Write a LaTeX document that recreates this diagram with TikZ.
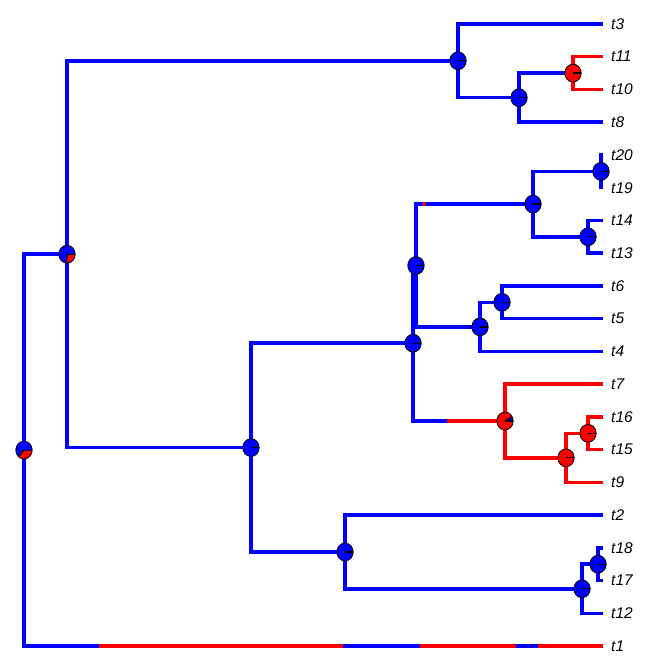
\documentclass[tikz,border=0pt]{standalone}
\usepackage{fontspec}
\setmainfont{Liberation Sans}
\tikzset{
  rama/.style={line width=3.5pt},
  azul/.style={rama, blue},
  rojo/.style={rama, red},
  hoja/.style={anchor=west, inner xsep=8pt, inner ysep=0pt, font=\fontsize{15.5}{18}\selectfont\itshape},
}
% Tarta en un nodo: #1 = nodo, #2 = fin del azul (grados)
\newcommand{\tarta}[2]{%
  \fill[blue] (#1) -- ++(0:8.2 and 8.9) arc[start angle=0, end angle=-#2, x radius=8.2, y radius=8.9] -- cycle;
  \fill[red] (#1) -- ++(-#2:8.2 and 8.9) arc[start angle=-#2, end angle=-360, x radius=8.2, y radius=8.9] -- cycle;
  \draw[line width=0.8pt] (#1) ellipse[x radius=8.2, y radius=8.9];
  \draw[line width=1.2pt] (#1) -- ++(8.2,0);
  \draw[line width=1.2pt] (#1) -- ++(-#2:8.2 and 8.9);
}
\begin{document}
\begin{tikzpicture}[x=1pt, y=-1pt]
    \useasboundingbox (0,0) rectangle (672,671);

    % Nodos internos
    \coordinate (r) at (24,450.1);
    \coordinate (a) at (67,254.2);
    \coordinate (b) at (458,60.8);
    \coordinate (d) at (519,97.7);
    \coordinate (e) at (573,73.1);
    \coordinate (c) at (251,447.6);
    \coordinate (f) at (413,343.2);
    \coordinate (h) at (416,265.5);
    \coordinate (k) at (533,204.1);
    \coordinate (m) at (601,171.4);
    \coordinate (n) at (588,236.8);
    \coordinate (l) at (480,326.9);
    \coordinate (o) at (502,302.3);
    \coordinate (j) at (505,421);
    \coordinate (p) at (566,457.8);
    \coordinate (q) at (588,433.3);
    \coordinate (g) at (345,552);
    \coordinate (u) at (582,588.8);
    \coordinate (v) at (598,564.2);

    % Hojas
    \node[hoja] (t3)  at (603,24)    {t3};
    \node[hoja] (t11) at (603,56.7)  {t11};
    \node[hoja] (t10) at (603,89.5)  {t10};
    \node[hoja] (t8)  at (603,122.2) {t8};
    \node[hoja] (t20) at (603,155)   {t20};
    \node[hoja] (t19) at (603,187.7) {t19};
    \node[hoja] (t14) at (603,220.4) {t14};
    \node[hoja] (t13) at (603,253.2) {t13};
    \node[hoja] (t6)  at (603,285.9) {t6};
    \node[hoja] (t5)  at (603,318.7) {t5};
    \node[hoja] (t4)  at (603,351.4) {t4};
    \node[hoja] (t7)  at (603,384.1) {t7};
    \node[hoja] (t16) at (603,416.9) {t16};
    \node[hoja] (t15) at (603,449.6) {t15};
    \node[hoja] (t9)  at (603,482.4) {t9};
    \node[hoja] (t2)  at (603,515.1) {t2};
    \node[hoja] (t18) at (603,547.8) {t18};
    \node[hoja] (t17) at (603,580.6) {t17};
    \node[hoja] (t12) at (603,613.3) {t12};
    \node[hoja] (t1)  at (603,646)   {t1};

    % Cambios de estado en las ramas
    \coordinate (x1) at (99,646);
    \coordinate (x2) at (343,646);
    \coordinate (x3) at (420,646);
    \coordinate (x4) at (516,646);
    \coordinate (x5) at (538,646);
    \coordinate (xj) at (447,421);
    \coordinate (xk1) at (423,204.1);
    \coordinate (xk2) at (426,204.1);

    % Ramas azules
    \draw[azul] (r) |- (a);
    \draw[azul] (r) |- (x1);
    \draw[azul] (x2) -- (x3);
    \draw[azul] (x4) -- (x5);
    \draw[azul] (a) |- (b);
    \draw[azul] (a) |- (c);
    \draw[azul] (b) |- (t3.west);
    \draw[azul] (b) |- (d);
    \draw[azul] (d) |- (e);
    \draw[azul] (d) |- (t8.west);
    \draw[azul] (c) |- (f);
    \draw[azul] (c) |- (g);
    \draw[azul] (f) |- (h);
    \draw[azul] (f) |- (xj);
    \draw[azul] (h) |- (k);
    \draw[azul] (h) |- (l);
    \draw[azul] (k) |- (m);
    \draw[azul] (k) |- (n);
    \draw[azul] (m) |- (t20.west);
    \draw[azul] (m) |- (t19.west);
    \draw[azul] (n) |- (t14.west);
    \draw[azul] (n) |- (t13.west);
    \draw[azul] (l) |- (o);
    \draw[azul] (l) |- (t4.west);
    \draw[azul] (o) |- (t6.west);
    \draw[azul] (o) |- (t5.west);
    \draw[azul] (g) |- (t2.west);
    \draw[azul] (g) |- (u);
    \draw[azul] (u) |- (v);
    \draw[azul] (u) |- (t12.west);
    \draw[azul] (v) |- (t18.west);
    \draw[azul] (v) |- (t17.west);

    % Ramas rojas
    \draw[rojo] (x1) -- (x2);
    \draw[rojo] (x3) -- (x4);
    \draw[rojo] (x5) -- (t1.west);
    \draw[rojo] (xk1) -- (xk2);
    \draw[rojo] (e) |- (t11.west);
    \draw[rojo] (e) |- (t10.west);
    \draw[rojo] (xj) -- (j);
    \draw[rojo] (j) |- (t7.west);
    \draw[rojo] (j) |- (p);
    \draw[rojo] (p) |- (q);
    \draw[rojo] (p) |- (t9.west);
    \draw[rojo] (q) |- (t16.west);
    \draw[rojo] (q) |- (t15.west);

    % Tartas de los nodos
    \tarta{r}{228}
    \tarta{a}{268}
    \foreach \nd in {b,d,c,f,h,k,m,n,l,o,g,u,v} {\tarta{\nd}{360}}
    \tarta{e}{0}
    \tarta{j}{30}
    \tarta{p}{0}
    \tarta{q}{0}
\end{tikzpicture}
\end{document}
